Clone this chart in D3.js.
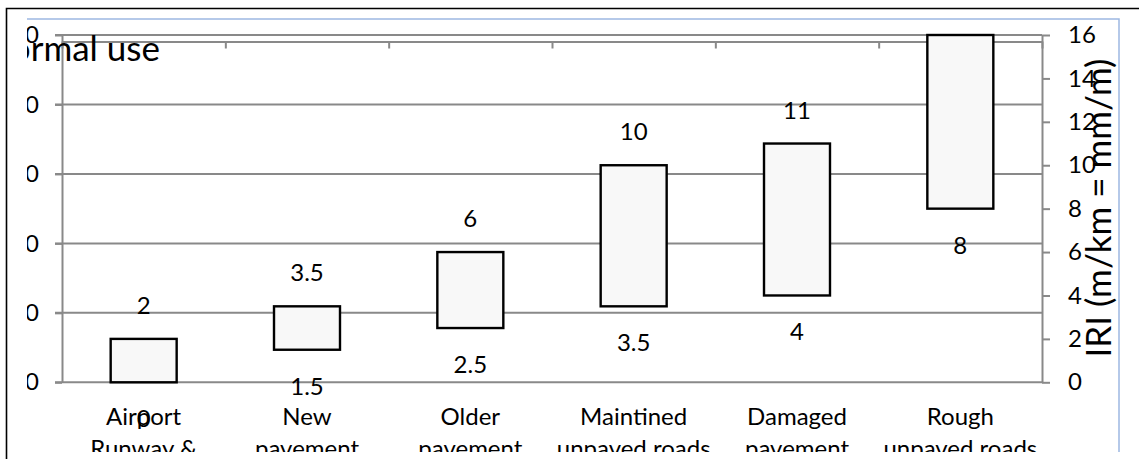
<!DOCTYPE html>
<html>
<head>
<meta charset="utf-8">
<script src="https://cdn.jsdelivr.net/npm/d3@7"></script>
<style>
  html, body { margin: 0; padding: 0; background: #fff; }
  svg { display: block; font-family: Lato, "Liberation Sans", sans-serif; }
</style>
</head>
<body>
<svg id="chart" width="1139" height="459"></svg>
<script>
// Road roughness ranges (IRI) by surface type
const categories = ["Airport\nRunway &", "New\npavement", "Older\npavement",
                    "Maintined\nunpaved roads", "Damaged\npavement", "Rough\nunpaved roads"];
const lowIRI  = [0, 1.5, 2.5, 3.5, 4, 8];
const highIRI = [2, 3.5, 6, 10, 11, 16];
const leftTicks  = [0, 20, 40, 60, 80, 100];
const rightTicks = [0, 2, 4, 6, 8, 10, 12, 14, 16];
const chartTitle = "Normal use";
const axisTitle  = "IRI (m/km = mm/m)";

const W = 1139, H = 459;
const plot = { left: 62, right: 1042, top: 35, bottom: 382.3 };
const view = { left: 27, right: 1119, top: 19, bottom: 452 };

const svg = d3.select("#chart");

svg.append("defs").append("clipPath").attr("id", "view-clip")
  .append("rect")
  .attr("x", view.left).attr("y", view.top)
  .attr("width", view.right - view.left).attr("height", view.bottom - view.top);

const g = svg.append("g").attr("clip-path", "url(#view-clip)");

const x = d3.scaleBand(categories, [plot.left, plot.right])
  .paddingInner(0.596).paddingOuter(0.298);
const yL = d3.scaleLinear([0, 100], [plot.bottom, plot.top]);
const yR = d3.scaleLinear([0, 16], [plot.bottom, plot.top]);
const slot = d3.scaleLinear([0, categories.length], [plot.left, plot.right]);

const gridColor = "#898989";
const fontPx = 24;

// horizontal gridlines from the left axis
g.append("g").selectAll("line").data(leftTicks).join("line")
  .attr("x1", plot.left - 7).attr("x2", plot.right)
  .attr("y1", d => yL(d)).attr("y2", d => yL(d))
  .attr("stroke", gridColor).attr("stroke-width", 2);

// left value axis
const leftAxis = g.append("g")
  .attr("transform", `translate(${plot.left},0)`)
  .call(d3.axisLeft(yL).tickValues(leftTicks).tickSize(7).tickSizeOuter(0).tickPadding(16));
leftAxis.select(".domain").attr("stroke", gridColor).attr("stroke-width", 2);
leftAxis.selectAll(".tick line").attr("stroke", gridColor).attr("stroke-width", 2);
leftAxis.selectAll(".tick text").attr("font-size", fontPx).attr("fill", "#000")
  .attr("font-family", "Lato, 'Liberation Sans', sans-serif");

// right value axis
const rightAxis = g.append("g")
  .attr("transform", `translate(${plot.right},0)`)
  .call(d3.axisRight(yR).tickValues(rightTicks).tickSize(8).tickSizeOuter(0).tickPadding(18));
rightAxis.select(".domain").attr("stroke", gridColor).attr("stroke-width", 2);
rightAxis.selectAll(".tick line").attr("stroke", gridColor).attr("stroke-width", 2);
rightAxis.selectAll(".tick text").attr("font-size", fontPx).attr("fill", "#000")
  .attr("font-family", "Lato, 'Liberation Sans', sans-serif");

// secondary category axis along the top
const topAxis = g.append("g")
  .attr("transform", `translate(0,${plot.top + 6.5})`)
  .call(d3.axisBottom(slot).tickValues(d3.range(categories.length + 1))
    .tickSize(7).tickSizeOuter(0).tickFormat(""));
topAxis.select(".domain").attr("stroke", gridColor).attr("stroke-width", 2);
topAxis.selectAll(".tick line").attr("stroke", gridColor).attr("stroke-width", 2);

// floating range bars
g.append("g").selectAll("rect").data(categories).join("rect")
  .attr("x", d => x(d))
  .attr("width", x.bandwidth())
  .attr("y", (d, i) => yR(highIRI[i]))
  .attr("height", (d, i) => yR(lowIRI[i]) - yR(highIRI[i]))
  .attr("fill", "#f8f8f8").attr("stroke", "#000").attr("stroke-width", 2.4);

// value labels above and below each bar
const labels = g.append("g").attr("font-size", fontPx).attr("text-anchor", "middle").attr("fill", "#000");
labels.selectAll("text.high").data(categories).join("text").attr("class", "high")
  .attr("x", d => x(d) + x.bandwidth() / 2)
  .attr("y", (d, i) => yR(highIRI[i]) - 25)
  .text((d, i) => highIRI[i]);
labels.selectAll("text.low").data(categories).join("text").attr("class", "low")
  .attr("x", d => x(d) + x.bandwidth() / 2)
  .attr("y", (d, i) => yR(lowIRI[i]) + 45)
  .text((d, i) => lowIRI[i]);

// category names under the plot
const cats = g.append("g").attr("font-size", fontPx).attr("text-anchor", "middle").attr("fill", "#000");
cats.selectAll("text").data(categories).join("text")
  .attr("x", d => x(d) + x.bandwidth() / 2)
  .attr("y", 425)
  .each(function(d) {
    d.split("\n").forEach((line, k) => {
      d3.select(this).append("tspan")
        .attr("x", x(d) + x.bandwidth() / 2)
        .attr("y", 425 + k * 32)
        .text(line);
    });
  });

// chart title
g.append("text")
  .attr("x", 160).attr("y", 61)
  .attr("text-anchor", "end").attr("font-size", 35).attr("fill", "#000")
  .text(chartTitle);

// right axis title
g.append("text")
  .attr("transform", "translate(1111,208) rotate(-90)")
  .attr("text-anchor", "middle").attr("font-size", 35).attr("fill", "#000")
  .text(axisTitle);

// chart area border (top and right edges)
svg.append("path")
  .attr("d", `M${view.left},${view.top}H${view.right}V${view.bottom}`)
  .attr("fill", "none").attr("stroke", "#9db8e2").attr("stroke-width", 1.5);

// outer frame
svg.append("path")
  .attr("d", `M6.5,${H}V8.5H${W}`)
  .attr("fill", "none").attr("stroke", "#000").attr("stroke-width", 1.6);
</script>
</body>
</html>
